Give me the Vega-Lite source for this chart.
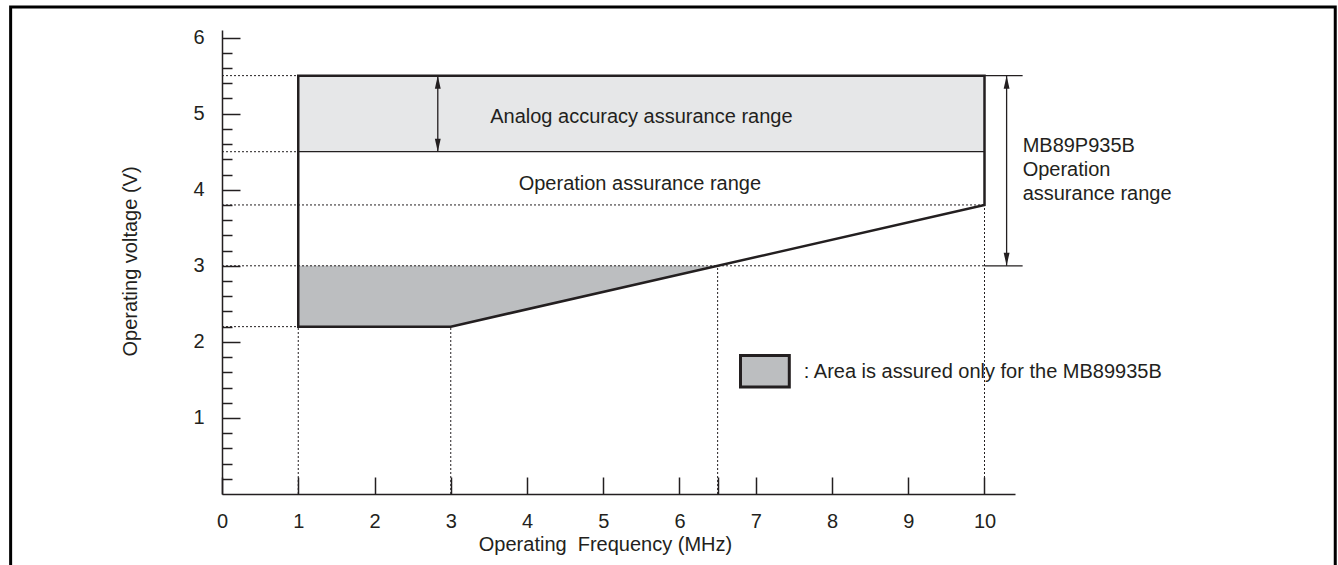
{
  "$schema": "https://vega.github.io/schema/vega-lite/v6.json",
  "width": 793,
  "height": 464,
  "autosize": {"type": "none"},
  "padding": {"left": 222, "top": 30, "right": 323, "bottom": 71},
  "background": "white",
  "config": {
    "view": {"stroke": null},
    "text": {"font": "Liberation Sans", "fontSize": 20, "color": "#231f20"}
  },
  "datasets": {
    "frame": [{"x": -2.772, "x2": 14.6, "y": -2, "y2": 6.401}],
    "analog": [{"x": 1, "x2": 10, "y": 4.5, "y2": 5.5}],
    "onlyarea": [
      {"x": 1, "y": 2.2, "y2": 3},
      {"x": 3, "y": 2.2, "y2": 3},
      {"x": 6.5, "y": 3, "y2": 3}
    ],
    "dotted": [
      {"x": 0, "x2": 1, "y": 5.5, "y2": 5.5},
      {"x": 0, "x2": 1, "y": 4.5, "y2": 4.5},
      {"x": 0, "x2": 10, "y": 3.8, "y2": 3.8},
      {"x": 0, "x2": 10, "y": 3, "y2": 3},
      {"x": 0, "x2": 1, "y": 2.2, "y2": 2.2},
      {"x": 1, "x2": 1, "y": 0, "y2": 2.2},
      {"x": 3, "x2": 3, "y": 0, "y2": 2.2},
      {"x": 6.5, "x2": 6.5, "y": 0, "y2": 3},
      {"x": 10, "x2": 10, "y": 0, "y2": 3.8}
    ],
    "solid": [
      {"x": 1, "x2": 10, "y": 4.5, "y2": 4.5},
      {"x": 10, "x2": 10.5, "y": 5.5, "y2": 5.5},
      {"x": 10, "x2": 10.5, "y": 3, "y2": 3},
      {"x": 2.83, "x2": 2.83, "y": 4.5, "y2": 5.5},
      {"x": 10.29, "x2": 10.29, "y": 3, "y2": 5.5}
    ],
    "boundary": [
      {"x": 1, "y": 2.2, "o": 1},
      {"x": 1, "y": 5.5, "o": 2},
      {"x": 10, "y": 5.5, "o": 3},
      {"x": 10, "y": 3.8, "o": 4},
      {"x": 3, "y": 2.2, "o": 5},
      {"x": 1, "y": 2.2, "o": 6}
    ],
    "heads": [
      {"x": 2.83, "y": 5.5, "dir": "up"},
      {"x": 2.83, "y": 4.5, "dir": "down"},
      {"x": 10.29, "y": 5.5, "dir": "up"},
      {"x": 10.29, "y": 3, "dir": "down"}
    ],
    "legendbox": [{"x": 6.8, "x2": 7.44, "y": 1.408, "y2": 1.822}],
    "centertext": [
      {"x": 5.5, "y": 4.878, "t": "Analog accuracy assurance range"},
      {"x": 5.48, "y": 3.993, "t": "Operation assurance range"}
    ],
    "lefttext": [
      {"x": 10.5, "y": 4.5, "t": "MB89P935B"},
      {"x": 10.5, "y": 4.184, "t": "Operation"},
      {"x": 10.5, "y": 3.868, "t": "assurance range"},
      {"x": 7.63, "y": 1.522, "t": ": Area is assured only for the MB89935B"}
    ]
  },
  "resolve": {"axis": {"x": "independent", "y": "independent"}},
  "layer": [
    {
      "data": {"name": "frame"},
      "mark": {"type": "rect", "fillOpacity": 0, "stroke": "#000000", "strokeWidth": 3},
      "encoding": {
        "x": {"field": "x", "type": "quantitative", "scale": {"domain": [0, 10.4], "nice": false, "zero": false}, "axis": null},
        "x2": {"field": "x2"},
        "y": {"field": "y", "type": "quantitative", "scale": {"domain": [0, 6.1], "nice": false, "zero": false}, "axis": null},
        "y2": {"field": "y2"}
      }
    },
    {
      "data": {"name": "analog"},
      "mark": {"type": "rect", "fill": "#e6e7e8", "strokeWidth": 0},
      "encoding": {
        "x": {
          "field": "x", "type": "quantitative",
          "scale": {"domain": [0, 10.4], "nice": false, "zero": false},
          "axis": {
            "orient": "bottom",
            "values": [0, 1, 2, 3, 4, 5, 6, 6.5, 7, 8, 9, 10],
            "labelExpr": "datum.value == 6.5 ? '' : '' + datum.value",
            "tickSize": -17, "labelPadding": 34,
            "tickColor": "#231f20", "tickWidth": 1.5,
            "domainColor": "#231f20", "domainWidth": 1.5,
            "labelFont": "Liberation Sans", "labelFontSize": 20, "labelColor": "#231f20",
            "labelFlush": false, "labelOverlap": false,
            "grid": false,
            "title": "Operating\u00a0 Frequency (MHz)",
            "titleFont": "Liberation Sans", "titleFontSize": 20, "titleFontWeight": "normal", "titleColor": "#231f20",
            "titleX": 383, "titleY": 56, "titleBaseline": "alphabetic", "titleAlign": "center"
          }
        },
        "x2": {"field": "x2"},
        "y": {
          "field": "y", "type": "quantitative",
          "scale": {"domain": [0, 6.1], "nice": false, "zero": false},
          "axis": {
            "orient": "left",
            "values": [1, 2, 3, 4, 5, 6],
            "format": "d",
            "tickSize": -18, "labelPadding": 36,
            "tickColor": "#231f20", "tickWidth": 1.5,
            "domainColor": "#231f20", "domainWidth": 1.5,
            "labelFont": "Liberation Sans", "labelFontSize": 20, "labelColor": "#231f20",
            "labelBaseline": "middle",
            "grid": false,
            "title": "Operating voltage (V)",
            "titleFont": "Liberation Sans", "titleFontSize": 20, "titleFontWeight": "normal", "titleColor": "#231f20",
            "titleAngle": 270,
            "titleX": -86, "titleY": 231, "titleBaseline": "alphabetic", "titleAlign": "center"
          }
        },
        "y2": {"field": "y2"}
      }
    },
    {
      "data": {"name": "onlyarea"},
      "mark": {"type": "area", "color": "#bcbec0", "opacity": 1, "orient": "vertical"},
      "encoding": {
        "x": {"field": "x", "type": "quantitative", "scale": {"domain": [0, 10.4], "nice": false, "zero": false}, "axis": null},
        "y": {"field": "y", "type": "quantitative", "scale": {"domain": [0, 6.1], "nice": false, "zero": false}, "axis": null},
        "y2": {"field": "y2"}
      }
    },
    {
      "data": {"name": "dotted"},
      "mark": {"type": "rule", "color": "#231f20", "strokeWidth": 1, "strokeDash": [2, 2]},
      "encoding": {
        "x": {"field": "x", "type": "quantitative", "scale": {"domain": [0, 10.4], "nice": false, "zero": false}, "axis": null},
        "x2": {"field": "x2"},
        "y": {
          "field": "y", "type": "quantitative",
          "scale": {"domain": [0, 6.1], "nice": false, "zero": false},
          "axis": {
            "orient": "left",
            "values": [0.2, 0.4, 0.6, 0.8, 1.2, 1.4, 1.6, 1.8, 2.2, 2.4, 2.6, 2.8, 3.2, 3.4, 3.6, 3.8, 4.2, 4.4, 4.6, 4.8, 5.2, 5.4, 5.6, 5.8],
            "labels": false, "domain": false, "grid": false, "title": null,
            "tickSize": -10, "tickColor": "#231f20", "tickWidth": 1.5
          }
        },
        "y2": {"field": "y2"}
      }
    },
    {
      "data": {"name": "solid"},
      "mark": {"type": "rule", "color": "#231f20", "strokeWidth": 1.3},
      "encoding": {
        "x": {"field": "x", "type": "quantitative", "scale": {"domain": [0, 10.4], "nice": false, "zero": false}, "axis": null},
        "x2": {"field": "x2"},
        "y": {"field": "y", "type": "quantitative", "scale": {"domain": [0, 6.1], "nice": false, "zero": false}, "axis": null},
        "y2": {"field": "y2"}
      }
    },
    {
      "data": {"name": "boundary"},
      "mark": {"type": "line", "color": "#231f20", "strokeWidth": 2.5, "strokeJoin": "miter", "strokeCap": "square"},
      "encoding": {
        "x": {"field": "x", "type": "quantitative", "scale": {"domain": [0, 10.4], "nice": false, "zero": false}, "axis": null},
        "y": {"field": "y", "type": "quantitative", "scale": {"domain": [0, 6.1], "nice": false, "zero": false}, "axis": null},
        "order": {"field": "o", "type": "quantitative"}
      }
    },
    {
      "data": {"name": "heads"},
      "mark": {"type": "point", "filled": true, "opacity": 1, "color": "#231f20", "size": 169, "strokeWidth": 0},
      "encoding": {
        "x": {"field": "x", "type": "quantitative", "scale": {"domain": [0, 10.4], "nice": false, "zero": false}, "axis": null},
        "y": {"field": "y", "type": "quantitative", "scale": {"domain": [0, 6.1], "nice": false, "zero": false}, "axis": null},
        "shape": {
          "field": "dir", "type": "nominal",
          "scale": {"domain": ["up", "down"], "range": ["M0,0L0.45,2L-0.45,2Z", "M0,0L0.45,-2L-0.45,-2Z"]},
          "legend": null
        }
      }
    },
    {
      "data": {"name": "legendbox"},
      "mark": {"type": "rect", "fill": "#bcbec0", "stroke": "#231f20", "strokeWidth": 3},
      "encoding": {
        "x": {"field": "x", "type": "quantitative", "scale": {"domain": [0, 10.4], "nice": false, "zero": false}, "axis": null},
        "x2": {"field": "x2"},
        "y": {"field": "y", "type": "quantitative", "scale": {"domain": [0, 6.1], "nice": false, "zero": false}, "axis": null},
        "y2": {"field": "y2"}
      }
    },
    {
      "data": {"name": "centertext"},
      "mark": {"type": "text", "align": "center", "baseline": "alphabetic"},
      "encoding": {
        "x": {"field": "x", "type": "quantitative", "scale": {"domain": [0, 10.4], "nice": false, "zero": false}, "axis": null},
        "y": {"field": "y", "type": "quantitative", "scale": {"domain": [0, 6.1], "nice": false, "zero": false}, "axis": null},
        "text": {"field": "t"}
      }
    },
    {
      "data": {"name": "lefttext"},
      "mark": {"type": "text", "align": "left", "baseline": "alphabetic"},
      "encoding": {
        "x": {"field": "x", "type": "quantitative", "scale": {"domain": [0, 10.4], "nice": false, "zero": false}, "axis": null},
        "y": {"field": "y", "type": "quantitative", "scale": {"domain": [0, 6.1], "nice": false, "zero": false}, "axis": null},
        "text": {"field": "t"}
      }
    }
  ]
}
